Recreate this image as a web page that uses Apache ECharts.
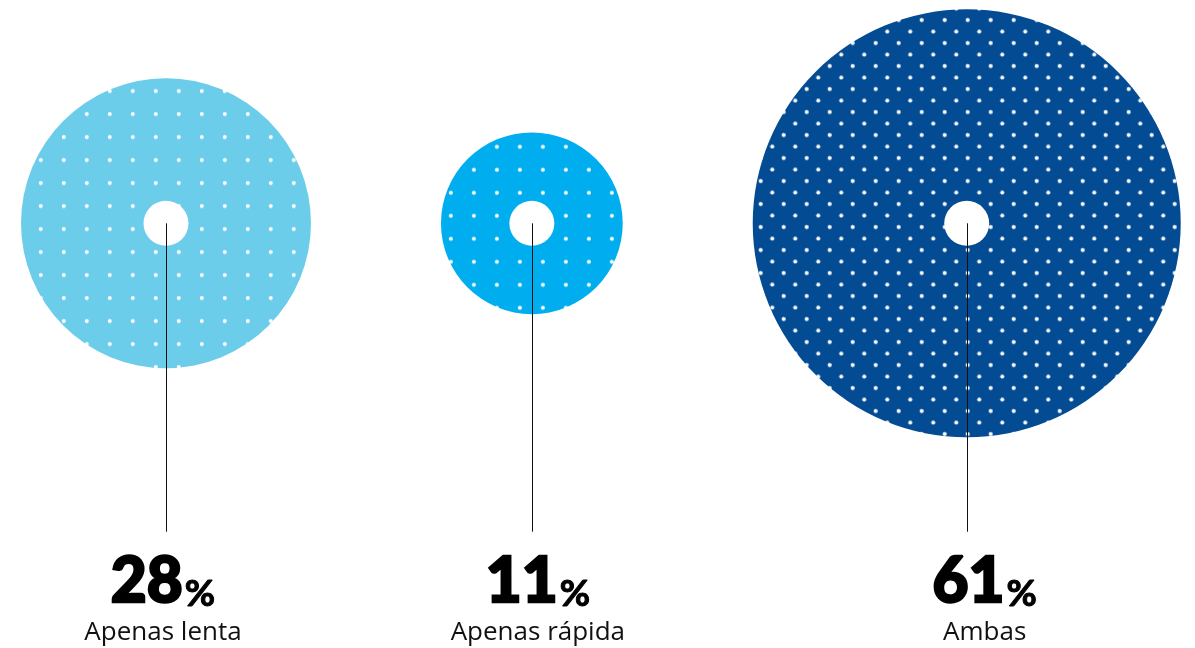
<!DOCTYPE html>
<html>
<head>
<meta charset="utf-8">
<script src="https://cdn.jsdelivr.net/npm/echarts@6/dist/echarts.min.js"></script>
<style>
html,body{margin:0;padding:0;background:#fff;}
#c{width:1195px;height:648px;}
</style>
</head>
<body>
<div id="c"></div>
<script>
// ---- data ----
const categories = ['Apenas lenta', 'Apenas rápida', 'Ambas'];
const values = [28, 11, 61];
const valueLabels = ['28', '11', '61'];

// ---- styles / layout ----
const COLORS = ['#6ccdeb', '#00aeef', '#034b93'];
const PX_PER_SQRT = 27.4;     // radius scale: r = k * sqrt(value)
const GAP = 130, LEFT = 21, CY = 223.3, HOLE = 22.5, LINE_END = 531.7;
const PCT_BASE = 603, LABEL_BASE = 636;
const LABEL_DX = [-3, 6, 18];
const DOT_SPECS = [
  { w: 23, h: 23, dots: [[12.8, 5.8]] },
  { w: 23, h: 23, dots: [[11, 15.4]] },
  { w: 23, h: 23, dots: [[1, 3.7], [12.5, 15.2]] }
];

function makeTile(bg, spec) {
  const c = document.createElement('canvas');
  c.width = spec.w; c.height = spec.h;
  const g = c.getContext('2d');
  g.fillStyle = bg; g.fillRect(0, 0, spec.w, spec.h);
  g.fillStyle = '#ffffff';
  spec.dots.forEach(([x, y]) => {
    for (let dx = -spec.w; dx <= spec.w; dx += spec.w)
      for (let dy = -spec.h; dy <= spec.h; dy += spec.h) {
        g.beginPath(); g.arc(x + dx, y + dy, 2.0, 0, Math.PI * 2); g.fill();
      }
  });
  return c;
}
const tiles = COLORS.map((col, i) => makeTile(col, DOT_SPECS[i]));

const chart = echarts.init(document.getElementById('c'), null, { renderer: 'canvas' });

function renderItem(params, api) {
  const i = params.dataIndex;
  const radii = values.map(v => PX_PER_SQRT * Math.sqrt(v));
  let cx = LEFT;
  for (let j = 0; j < i; j++) cx += 2 * radii[j] + GAP;
  cx += radii[i];
  const lx = Math.round(cx) + 0.5 - cx;
  return {
    type: 'group',
    x: cx, y: CY,
    children: [
      { type: 'ring', shape: { cx: 0, cy: 0, r: radii[i], r0: HOLE },
        style: { fill: { image: tiles[i], repeat: 'repeat' } } },
      { type: 'line', shape: { x1: lx, y1: 0, x2: lx, y2: LINE_END - CY },
        style: { stroke: '#111', lineWidth: 1 } },
      { type: 'text', x: LABEL_DX[i], y: PCT_BASE - CY + 10,
        style: {
          text: '{n|' + valueLabels[i] + '}{p|%}',
          align: 'center', verticalAlign: 'bottom',
          rich: {
            n: { fontFamily: 'Lato', fontSize: 62, fontWeight: 900, fill: '#000', lineHeight: 62, verticalAlign: 'bottom',
                 stroke: '#000', lineWidth: 2.4 },
            p: { fontFamily: 'Lato', fontSize: 37, fontWeight: 'bold', fill: '#000', lineHeight: 45, verticalAlign: 'bottom',
                 stroke: '#000', lineWidth: 1, padding: [0, 0, 0, 2] }
          }
        } },
      { type: 'text', x: LABEL_DX[i], y: LABEL_BASE - CY + 10,
        style: {
          text: categories[i], fontFamily: 'Open Sans', fontSize: 26,
          fill: '#111', align: 'center', verticalAlign: 'bottom'
        } }
    ]
  };
}

chart.setOption({
  animation: false,
  backgroundColor: '#ffffff',
  series: [{
    type: 'custom',
    coordinateSystem: 'none',
    renderItem: renderItem,
    data: values.map((v, i) => [i, v])
  }]
});
</script>
</body>
</html>
